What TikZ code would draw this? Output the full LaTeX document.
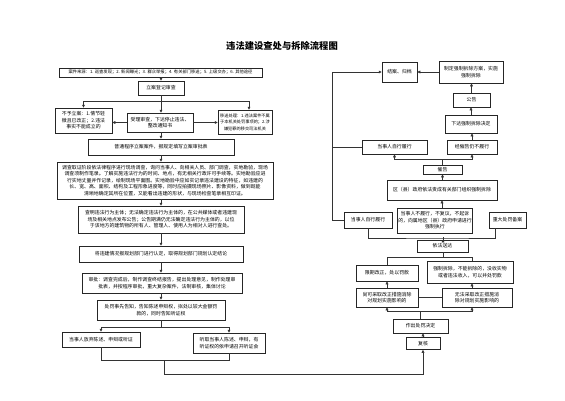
\documentclass[tikz,border=0pt]{standalone}
\usepackage{fontspec}
\setmainfont{Noto Sans CJK SC}
\usetikzlibrary{arrows.meta}
\tikzset{
 box/.style={draw=black!85, line width=0.9pt, fill=white, align=center, inner sep=0.5pt, font=\fontsize{4.9}{6.6}\selectfont},
 ln/.style={draw=black!80, line width=0.5pt},
 ar/.style={ln, -{Triangle[length=2.8pt,width=2.8pt]}},
}
\begin{document}
\begin{tikzpicture}[x=1pt,y=-1pt]
\useasboundingbox[fill=white] (0,0) rectangle (565,400);
\node[font=\fontsize{9.3}{10}\selectfont\bfseries] (title) at (282,46) {违法建设查处与拆除流程图};
% left column
\node[box,minimum width=203pt,minimum height=9pt,font=\fontsize{4.3}{5}\selectfont] (b1) at (160.5,72.5) {案件来源：1. 巡查发现；2. 新闻曝光；3. 群众举报；4. 有关部门移送；5. 上级交办；6. 其他途径};
\node[box,minimum width=46pt,minimum height=14pt] (b2) at (161,88) {立案登记审查};
\node[box,minimum width=57pt,minimum height=25pt] (b3L) at (83.5,120.5) {不予立案：1.情节轻\\微且已改正；2.违法\\事实不能成立的};
\node[box,minimum width=66pt,minimum height=19pt] (b3M) at (160,122.5) {受理审查，下达停止违法、\\整改通知书};
\node[box,minimum width=54pt,minimum height=24pt,font=\fontsize{4.2}{6.4}\selectfont] (b3R) at (245,122) {移送处理：1.违法案件不属\\于本机关处罚事项的；2.涉\\嫌犯罪的移交司法机关};
\node[box,minimum width=146pt,minimum height=16pt] (b4) at (161,147) {普通程序立案案件，报规定填写立案审批表};
\node[box,minimum width=216pt,minimum height=37pt] (b5) at (165,180.5) {调查取证阶段依法律程序进行现场调查，询问当事人、向相关人员、部门调查，实地勘验，现场\\调查须制作笔录。了解实施违法行为的时间、地点，有无相关行政许可手续等。实地勘验应进\\行实地丈量并作记录，绘制现场平面图。实地勘验中应如实记录违法建设的特征，如违建的\\长、宽、高、面积、结构及工程形象进度等，同时应拍摄现场照片、影像资料，做到既能\\清晰地确定其所在位置，又能看出违建的形状，与现场检查笔录相互印证。};
\node[box,minimum width=166pt,minimum height=27pt] (b6) at (161,219.5) {查明违法行为主体；无法确定违法行为主体的，在公共媒体或者违建现\\场及相关地点发布公告；公告期满仍无法确定违法行为主体的，以位\\于该地方的建筑物的所有人、管理人、使用人为相对人进行查处。};
\node[box,minimum width=164pt,minimum height=16pt] (b7) at (161,254) {将违建情况报规划部门进行认定，取得规划部门规划认定结论};
\node[box,minimum width=160pt,minimum height=20pt] (b8) at (162,283) {审批：调查完成后，制作调查终结报告，提出处理意见，制作处理审\\批表，并按程序审批，重大复杂案件，法制审核，集体讨论};
\node[box,minimum width=128pt,minimum height=20pt] (b9) at (161,310) {处罚事先告知，告知陈述申辩权，拟处以较大金额罚\\款的，同时告知听证权};
\node[box,minimum width=78pt,minimum height=15pt] (b10L) at (101,339.5) {当事人放弃陈述、申辩或听证};
\node[box,minimum width=72pt,minimum height=20pt] (b10R) at (229,343) {听取当事人陈述、申辩，有\\听证权的依申请召开听证会};
% right column
\node[box,minimum width=34pt,minimum height=12pt] (r1) at (423,343.5) {复核};
\node[box,minimum width=55pt,minimum height=14pt] (r2) at (420.5,326) {作出处罚决定};
\node[box,minimum width=62pt,minimum height=19pt] (r3L) at (387,297.5) {尚可采取改正措施消除\\对规划实施影响的};
\node[box,minimum width=70pt,minimum height=19pt] (r3R) at (477,297.5) {无法采取改正措施消\\除对规划实施影响的};
\node[box,minimum width=62pt,minimum height=16pt] (r4L) at (387,273) {限期改正，处以罚款};
\node[box,minimum width=86pt,minimum height=22pt] (r4R) at (470,272) {强制拆除，不能拆除的，没收实物\\或者违法收入，可以并处罚款};
\node[box,minimum width=51pt,minimum height=12pt] (r5) at (442.5,246) {依法送达};
\node[box,minimum width=68pt,minimum height=25pt] (r6) at (435,220.5) {当事人不履行，不复议，不起诉\\的，向属地区（县）政府申请进行\\强制执行};
\node[box,minimum width=48pt,minimum height=16pt] (r6L) at (368,220) {当事人自行履行};
\node[box,minimum width=37pt,minimum height=16pt] (r6R) at (507.5,220) {重大处罚备案};
\node[box,minimum width=110pt,minimum height=20pt] (r7) at (442,190) {区（县）政府依法责成有关部门组织强制拆除};
\node[box,minimum width=39pt,minimum height=9pt] (r8) at (442.5,169.5) {催告};
\node[box,minimum width=65pt,minimum height=14pt] (r9L) at (394.5,147) {当事人自行履行};
\node[box,minimum width=50pt,minimum height=14pt] (r9R) at (472,147) {经催告仍不履行};
\node[box,minimum width=52pt,minimum height=18pt] (r10) at (471,124) {下达强制拆除决定};
\node[box,minimum width=37pt,minimum height=14pt] (r11) at (471.5,100) {公告};
\node[box,minimum width=64pt,minimum height=22pt] (r12) at (471,72) {制定强制拆除方案，实施\\强制拆除};
\node[box,minimum width=35pt,minimum height=20pt] (r13) at (399.5,72) {结案、归档};
% left connectors
\draw[ar] (b1.south -| b2) -- (b2.north);
\coordinate (j1) at (161,101);
\draw[ln] (b2.south) -- (j1);
\draw[ar] (j1) -| (b3L.north);
\draw[ar] (j1) -- (j1 |- b3M.north);
\draw[ar] (j1) -| ([xshift=4pt]b3R.north);
\draw[ar] (b3M.west) -- (b3M.west -| b3L.east);
\draw[ar] (b3M.east) -- (b3M.east -| b3R.west);
\draw[ar] (b3M.south -| b4) -- (b4.north);
\draw[ar] (b4.south) -- (b4.south |- b5.north);
\draw[ar] (b5.south -| b6) -- (b6.north);
\draw[ar] (b6.south) -- (b7.north);
\draw[ar] (b7.south) -- (b7.south |- b8.north);
\draw[ar] (b8.south -| b9) -- (b9.north);
\coordinate (j2) at (161,327);
\draw[ln] (b9.south) -- (j2);
\draw[ar] (j2) -| (b10L.north);
\draw[ar] (j2) -| (b10R.north);
\coordinate (j3) at (164,360);
\coordinate (j4) at (164,374);
\draw[ln] (b10L.south) |- (j3);
\draw[ln] (b10R.south) |- (j3);
\draw[ar] (j3) -- (j4) -| (r1.south);
% right connectors
\draw[ar] (r1.north) -- (r1.north |- r2.south);
\coordinate (k1) at (420,311);
\draw[ln] (r2.north -| k1) -- (k1);
\draw[ar] (k1) -| (r3L.south);
\draw[ar] (k1) -| ([xshift=-5pt]r3R.south);
\draw[ln] (r3L.east) -- (r3R.west);
\draw[ar] (r3L.north) -- (r4L.south);
\draw[ar] ([xshift=-5pt]r3R.north) -- ([xshift=-5pt]r3R.north |- r4R.south);
\coordinate (k2) at (443,257);
\draw[ln] (r4L.north) |- (k2);
\draw[ln] ([xshift=2pt]r4R.north) |- (k2);
\draw[ln] (r5.south -| k2) -- (k2);
\draw[ar] (r5.north -| k2) -- (r5.north -| k2 |- r6.south);
\coordinate (k3) at (443,238);
\draw[ln] (r6L.south) |- (k3) -| ([xshift=-12pt]r6R.south);
\draw[ar] (r6.north -| r7) -- (r7.south);
\draw[ar] (r7.north -| r8) -- (r8.south);
\coordinate (k4) at (442.5,159);
\draw[ln] (r8.north) -- (k4);
\draw[ar] (k4) -| (r9L.south);
\draw[ar] (k4) -| (r9R.south);
\draw[ar] (r9R.north) -- (r9R.north |- r10.south);
\draw[ar] (r10.north) -- (r10.north |- r11.south);
\draw[ar] (r11.north) -- (r11.north |- r12.south);
\draw[ar] (r12.west) -- (r13.east);
\coordinate (k5) at (332,220);
\draw[ln] (r6L.west) -- (k5);
\draw[ar] (k5) |- (r13.west);
\draw[ln] (r9L.west) -- (r9L.west -| k5);
\end{tikzpicture}
\end{document}
